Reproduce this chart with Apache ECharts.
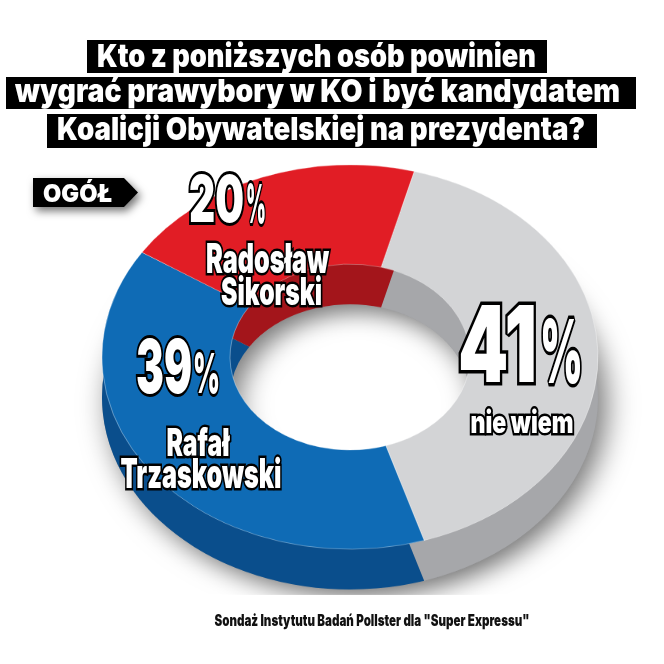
<!DOCTYPE html>
<html>
<head>
<meta charset="utf-8">
<title>Prawybory KO</title>
<script src="https://cdn.jsdelivr.net/npm/echarts@6.0.0/dist/echarts.min.js"></script>
<style>
html,body{margin:0;padding:0;background:#fff;}
#wrap{position:relative;width:664px;height:664px;overflow:hidden;}
#pie,#chart{position:absolute;left:0;top:0;width:664px;height:664px;}
/* pochylenie pierscienia (widok z gory pod katem) */
#pie{transform:scaleY(0.775);transform-origin:0 357px;}
</style>
</head>
<body>
<div id="wrap"><div id="pie"></div><div id="chart"></div></div>
<script>
// dane
var categories = ['nie wiem', 'Rafał Trzaskowski', 'Radosław Sikorski'];
var values = [41, 39, 20];
var nameLines = [['nie wiem'], ['Rafał', 'Trzaskowski'], ['Radosław', 'Sikorski']];
var titleLines = ['Kto z poniższych osób powinien', 'wygrać prawybory w KO i być kandydatem', 'Koalicji Obywatelskiej na prezydenta?'];
var tagText = 'OGÓŁ';
var sourceText = 'Sondaż Instytutu Badań Pollster dla "Super Expressu"';

// kolory
var topColors = ['#d3d4d6', '#0f6bb5', '#e11d25'];
var sideColors = ['#a6a7aa', '#0a4e8c', '#a3151b'];

var CX = 350, CY = 357, R0 = 120, R1 = 248, DEPTH = 52, START = 75;
var FONT = 'Inter, "DejaVu Sans", sans-serif';
var WEIGHT = '900';

//pierscien
function ring(colors, dy, extra){
	var s = {
		type:'pie', silent:true, center:[CX, CY + dy], radius:[R0, R1], startAngle:START,
		label:{show:false}, labelLine:{show:false}, emphasis:{disabled:true},
		data: values.map(function(v, i){
			return {name:categories[i], value:v, itemStyle:{color:colors[i]}};
		})
	};
	for(var k in extra) s[k] = extra[k];
	return s;
}

var pieChart = echarts.init(document.getElementById('pie'));
pieChart.setOption({
	animation:false,
	series:[
		{type:'pie', silent:true, center:[CX, CY + DEPTH], radius:[R0, R1], startAngle:START,
		 label:{show:false}, labelLine:{show:false}, emphasis:{disabled:true},
		 itemStyle:{color:'#9c9da0', shadowBlur:30, shadowColor:'rgba(0,0,0,0.55)', shadowOffsetX:8, shadowOffsetY:10},
		 data:[{name:'cien', value:1}]},
		ring(sideColors, DEPTH),
		ring(topColors, 0, {itemStyle:{borderColor:'rgba(255,255,255,0.35)', borderWidth:1}})
	]
});

// pomiar tekstu
var mctx = document.createElement('canvas').getContext('2d');
function textW(t, size){
	mctx.font = WEIGHT + ' ' + size + 'px ' + FONT;
	return mctx.measureText(t).width;
}
// tekst dopasowany do szerokosci (waski, gruby kroj)
function fitText(t, x, y, size, w, align, fill, stroke, lw){
	lw = lw || 0;
	var sx = (w - lw) / textW(t, size);
	return {type:'text', x:x, y:y, scaleX:sx, silent:true, z:10,
		style:{text:t, x:0, y:0, font:WEIGHT + ' ' + size + 'px ' + FONT, fill:fill,
			stroke:stroke || null, lineWidth:lw,
			align:align, textAlign:align, verticalAlign:'middle', textVerticalAlign:'middle'}};
}

// uklad tytulu
var titleBoxes = [[87, 40, 460, 33], [6, 77, 630, 32], [47, 114, 550, 34]];
var titleText = [[316.5, 57, 439], [317.5, 92, 605], [321, 130, 528]];
// uklad etykiet: liczba [prawa krawedz, y, rozmiar, szer], procent [lewa, y, rozmiar, szer], nazwy [x, y, rozmiar, szer]
var labelPos = [
	{num:[537, 350, 106, 86, 7], pct:[540, 357, 88, 50, 7], names:[[522, 424, 31, 108]]},
	{num:[192, 371, 74, 62, 6], pct:[193, 376, 55, 33, 6], names:[[198, 445, 38, 68], [201, 476, 41, 166]]},
	{num:[244, 203, 64, 61, 6], pct:[246, 207, 53, 26, 6], names:[[267.5, 261, 41, 128], [271.5, 294, 38, 106]]}
];

var els = [];
titleLines.forEach(function(t, i){
	var b = titleBoxes[i], p = titleText[i];
	els.push({type:'rect', silent:true, z:5, shape:{x:b[0], y:b[1], width:b[2], height:b[3]}, style:{fill:'#000'}});
	els.push(fitText(t, p[0], p[1], 32, p[2], 'center', '#fff'));
});
// znacznik OGÓŁ
els.push({type:'polygon', silent:true, z:5,
	shape:{points:[[33, 178], [124, 178], [138, 192.5], [124, 207], [33, 207]]},
	style:{fill:'#000', shadowBlur:8, shadowColor:'rgba(0,0,0,0.55)', shadowOffsetX:3, shadowOffsetY:4}});
els.push(fitText(tagText, 77.5, 194.5, 25, 69, 'center', '#fff'));

values.forEach(function(v, i){
	var lp = labelPos[i];
	els.push(fitText(String(v), lp.num[0], lp.num[1], lp.num[2], lp.num[3], 'right', '#fff', '#000', lp.num[4]));
	els.push(fitText('%', lp.pct[0], lp.pct[1], lp.pct[2], lp.pct[3], 'left', '#fff', '#000', lp.pct[4]));
	nameLines[i].forEach(function(n, j){
		var q = lp.names[j];
		els.push(fitText(n, q[0], q[1], q[2], q[3], 'center', '#fff', '#000', 5));
	});
});
els.push(fitText(sourceText, 372, 621.5, 16, 315, 'center', '#111'));

var chart = echarts.init(document.getElementById('chart'));
chart.setOption({animation:false, graphic:{elements:els}});
</script>
</body>
</html>
